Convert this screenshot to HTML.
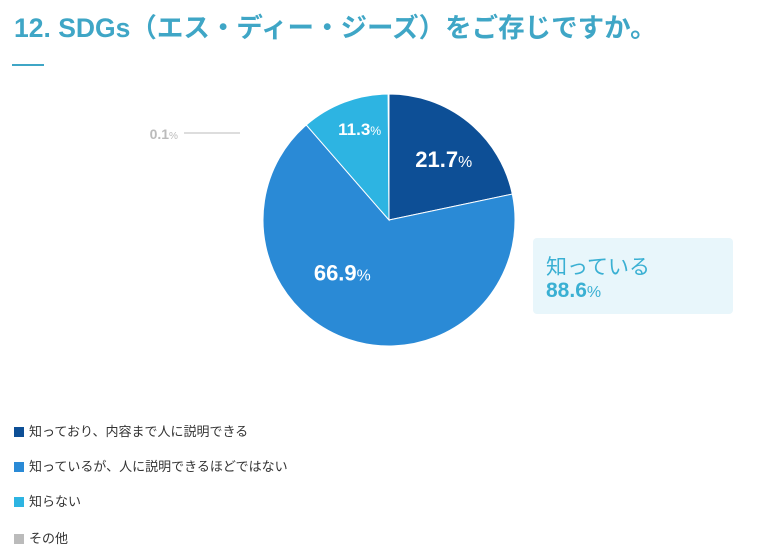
<!DOCTYPE html>
<html><head><meta charset="utf-8">
<style>
body{margin:0;width:777px;height:559px;background:#fff;overflow:hidden;font-family:"Liberation Sans","Noto Sans CJK JP",sans-serif;position:relative}
.title{position:absolute;left:14px;top:6px;font-size:26.5px;font-weight:bold;color:#3fa6c6;letter-spacing:0px;white-space:nowrap}
.rule{position:absolute;left:12px;top:64px;width:32px;height:2px;background:#3fa6c6}
.legend{position:absolute;left:14px;font-size:13px;color:#333;white-space:nowrap}
.legend span.sw{display:inline-block;width:10px;height:10px;margin-right:5px;vertical-align:-1px}
.callout{position:absolute;left:533px;top:238px;width:200px;height:76px;background:#e8f6fb;border-radius:4px;color:#3ab0d3}
</style></head><body>
<div class="title">12. SDGs（エス・ディー・ジーズ）をご存じですか。</div>
<div class="rule"></div>
<svg id="pie" width="777" height="559" style="position:absolute;left:0;top:0"></svg>
<div class="callout">
<div style="position:absolute;left:13px;top:13px;font-size:21px">知っている</div>
<div style="position:absolute;left:13px;top:41px;font-size:21px;font-weight:bold">88.6<span style="font-size:16px;font-weight:normal">%</span></div>
</div>
<div class="legend" style="top:421px"><span class="sw" style="background:#0d4f96"></span>知っており、内容まで人に説明できる</div>
<div class="legend" style="top:456px"><span class="sw" style="background:#2a8ad6"></span>知っているが、人に説明できるほどではない</div>
<div class="legend" style="top:491px"><span class="sw" style="background:#2db4e2"></span>知らない</div>
<div class="legend" style="top:528px"><span class="sw" style="background:#bbbbbb"></span>その他</div>
<script>
const categories=["知っており、内容まで人に説明できる","知っているが、人に説明できるほどではない","知らない","その他"];
const values=[21.7,66.9,11.3,0.1];
const colors=["#0d4f96","#2a8ad6","#2db4e2","#bbbbbb"];
const labelSizes=[22,22,17,14];
const NS="http://www.w3.org/2000/svg";
const svg=document.getElementById('pie');
const cx=389,cy=220,r=126;
const labelRad=[0.65,0.56,0.76,0];
const labelShift=[0.05,0.4,0.05,0];
const total=values.reduce((a,b)=>a+b,0);
function pt(a,rr){return [cx+rr*Math.sin(a),cy-rr*Math.cos(a)];}
let a0=0;
values.forEach((v,i)=>{
 const a1=a0+v/total*2*Math.PI;
 const p0=pt(a0,r),p1=pt(a1,r);
 const large=(a1-a0)>Math.PI?1:0;
 const path=document.createElementNS(NS,'path');
 path.setAttribute('d',`M${cx},${cy}L${p0[0]},${p0[1]}A${r},${r} 0 ${large} 1 ${p1[0]},${p1[1]}Z`);
 path.setAttribute('fill',colors[i]);
 path.setAttribute('stroke','#fff');path.setAttribute('stroke-width','1');
 
 
 svg.appendChild(path);
 const mid=(a0+a1)/2+labelShift[i];
 const t=document.createElementNS(NS,'text');
 if(v<1){
  const ln=document.createElementNS(NS,'line');
  ln.setAttribute('x1',184);ln.setAttribute('x2',240);ln.setAttribute('y1',133);ln.setAttribute('y2',133);
  ln.setAttribute('stroke','#bbb');
  
  
  svg.appendChild(ln);
  t.setAttribute('x',178);t.setAttribute('y',139);t.setAttribute('text-anchor','end');
  t.setAttribute('fill','#bbb');
 } else {
  const p=pt(mid,r*labelRad[i]);
  t.setAttribute('x',p[0]);t.setAttribute('y',p[1]+labelSizes[i]*0.35);t.setAttribute('text-anchor','middle');
  t.setAttribute('fill','#fff');
 }
 t.setAttribute('font-size',labelSizes[i]);t.setAttribute('font-weight','bold');
 t.setAttribute('font-family','"Liberation Sans",sans-serif');
 
 
 t.textContent=v.toFixed(1);
 const ts=document.createElementNS(NS,'tspan');
 ts.setAttribute('font-size',labelSizes[i]*0.72);ts.setAttribute('font-weight','normal');
 ts.textContent='%';
 t.appendChild(ts);
 svg.appendChild(t);
 a0=a1;
});
</script>
</body></html>
